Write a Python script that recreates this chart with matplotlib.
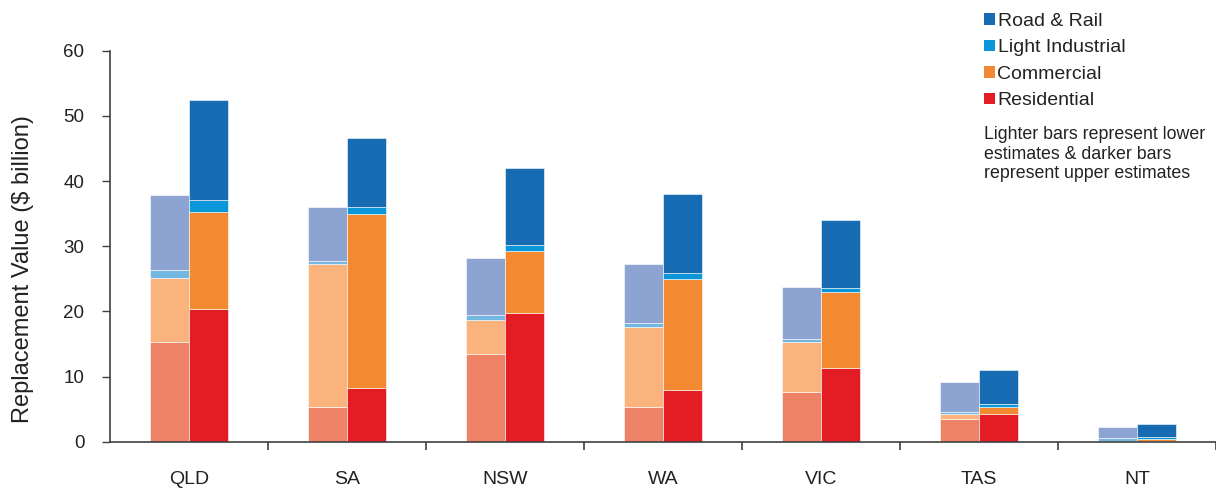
import matplotlib
matplotlib.use("Agg")
import matplotlib.pyplot as plt
from matplotlib.patches import Patch
import numpy as np

plt.rcParams['font.family'] = ['Liberation Sans', 'DejaVu Sans']

states = ["QLD", "SA", "NSW", "WA", "VIC", "TAS", "NT"]
series = ["Residential", "Commercial", "Light Industrial", "Road & Rail"]

# lower estimates (lighter bars)
low_res = [15.35, 5.4, 13.5, 5.3, 7.7, 3.5, 0.05]
low_com = [9.7, 21.9, 5.2, 12.3, 7.65, 0.75, 0.1]
low_li = [1.3, 0.45, 0.7, 0.6, 0.4, 0.3, 0.45]
low_road = [11.5, 8.3, 8.75, 9.1, 8.0, 4.6, 1.65]

# upper estimates (darker bars)
up_res = [20.4, 8.3, 19.75, 8.0, 11.35, 4.25, 0.15]
up_com = [14.8, 26.7, 9.45, 17.0, 11.55, 1.05, 0.22]
up_li = [1.9, 1.0, 1.0, 0.9, 0.65, 0.5, 0.4]
up_road = [15.35, 10.6, 11.8, 12.1, 10.45, 5.2, 2.0]

light_colors = ["#EE8266", "#FAB37D", "#72B6E2", "#8DA3D2"]
dark_colors = ["#E41C24", "#F38A31", "#0A97D9", "#166BB3"]

W, H = 1216, 490
fig = plt.figure(figsize=(W/100, H/100), dpi=100)
ax = fig.add_axes([110/W, 48.3/H, 1 - 110/W, (441.7-50.7)/H])

x = np.arange(len(states))
w = 0.247
off = 0.123

low = [low_res, low_com, low_li, low_road]
up = [up_res, up_com, up_li, up_road]

bottom = np.zeros(len(states))
for vals, c in zip(low, light_colors):
    ax.bar(x - off, vals, w, bottom=bottom, color=c, edgecolor='white', linewidth=0.4)
    bottom += np.array(vals)
bottom = np.zeros(len(states))
for vals, c in zip(up, dark_colors):
    ax.bar(x + off, vals, w, bottom=bottom, color=c, edgecolor='white', linewidth=0.4)
    bottom += np.array(vals)

ax.set_xlim(-0.5, len(states) - 0.5)
ax.set_ylim(0, 60)
ax.set_yticks(range(0, 61, 10))
ax.set_xticks(x)
ax.set_xticklabels(states)
ax.set_xticks(np.arange(0.5, len(states), 1), minor=True)
ax.tick_params(axis='x', which='major', length=0, pad=21, labelsize=14, labelcolor='#222222')
ax.tick_params(axis='x', which='minor', length=6, width=1.2, color='#404040', direction='out')
ax.tick_params(axis='y', length=6, width=1.0, color='#404040', labelsize=13.5, pad=12.5,
               labelcolor='#222222')
for s in ['top', 'right']:
    ax.spines[s].set_visible(False)
for s in ['left', 'bottom']:
    ax.spines[s].set_color('#404040')
    ax.spines[s].set_linewidth(1.2)

fig.text(23/W, 1 - 269/H, "Replacement Value ($ billion)", fontsize=17, color='#222222',
         rotation=90, ha='center', va='center')

handles = [Patch(facecolor=dark_colors[3]), Patch(facecolor=dark_colors[2]),
           Patch(facecolor=dark_colors[1]), Patch(facecolor=dark_colors[0])]
labels = ["Road & Rail", "Light Industrial", "Commercial", "Residential"]
fig.legend(handles, labels, loc='upper left', bbox_to_anchor=(980/W, 1 - 9/H),
           frameon=False, fontsize=14, handlelength=0.55, handleheight=0.55,
           handletextpad=0.15, labelspacing=0.49, borderpad=0.2, borderaxespad=0,
           labelcolor='#222222')

fig.text(984/W, 1 - 126/H,
         "Lighter bars represent lower\nestimates & darker bars\nrepresent upper estimates",
         fontsize=12.8, color='#222222', va='top', ha='left', linespacing=1.2)

fig.savefig("out.png", dpi=100)
